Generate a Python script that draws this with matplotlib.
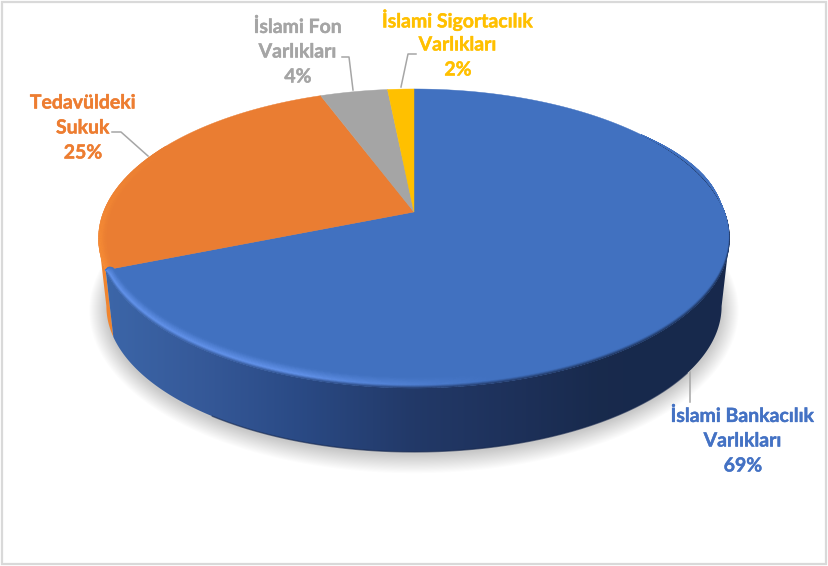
import numpy as np
import matplotlib
matplotlib.use('Agg')
import matplotlib.pyplot as plt
import matplotlib.patheffects as pe
from matplotlib.collections import PolyCollection
from matplotlib.colors import to_rgb
from matplotlib.patches import Polygon, Rectangle

# data, clockwise from 12 o'clock
categories = ['İslami Bankacılık\nVarlıkları', 'Tedavüldeki\nSukuk', 'İslami Fon\nVarlıkları', 'İslami Sigortacılık\nVarlıkları']
values = [68.9, 25.4, 4.1, 1.6]
percent_labels = ['69%', '25%', '4%', '2%']
colors = ['#4171c0', '#ea7d32', '#a5a5a5', '#ffc000']
label_colors = ['#4472c4', '#ed7d31', '#a5a5a5', '#ffc000']

# pie geometry in pixels, tilted circle with a bit of perspective
cx, cy = 414.0, 212.0
a, b, k = 310.5, 144.8, 0.177
depth = 68.4
bottom_scale = 0.975


def project(theta, r=1.0, dy=0.0):
    u = r * np.sin(theta)
    v = r * np.cos(theta)
    den = 1 + k * v
    return cx + a * u / den, cy - b * v / den + dy


def lower(theta):
    x, y = project(theta)
    return cx + (x - cx) * bottom_scale, cy + (y - cy) * bottom_scale + depth


def mix(c1, c2, t):
    return tuple(np.array(c1) * (1 - t) + np.array(c2) * t)


plt.rcParams['font.family'] = ['Lato', 'DejaVu Sans']
fig = plt.figure(figsize=(8.29, 5.66), dpi=100)
ax = fig.add_axes([0, 0, 1, 1])
ax.set_xlim(0, 829)
ax.set_ylim(566, 0)
ax.axis('off')

# frame
ax.add_patch(Rectangle((2, 2), 824.5, 561.5, fill=False, ec='#d9d9d9', lw=1.6, zorder=0))

fracs = np.array(values) / sum(values)
edges = np.concatenate([[0], np.cumsum(fracs)]) * 2 * np.pi
blue_end = edges[1]

# angles where the outline of the disc is widest, the wall silhouette runs straight there
th_right = np.pi / 2 + np.arcsin(k)
th_left = 2 * np.pi - th_right

# soft shadow under the disc
full = np.linspace(0, 2 * np.pi, 300)
lx, ly = lower(full)
mx, my = lx.mean(), ly.mean()
for e in np.arange(17, -1, -1.0):
    sx = mx + (lx - mx) * (1 + e / 306.0)
    sy = my + (ly - my) * (1 + e / 148.0) + 3
    ax.add_patch(Polygon(np.c_[sx, sy], fc='black', ec='none', alpha=0.012, zorder=1))

# orange side wall, only a sliver shows on the left
th = np.linspace(blue_end, th_left, 40)
x1, y1 = project(th)
x2, y2 = lower(th)
ax.add_patch(Polygon(np.r_[np.c_[x1, y1], np.c_[x2, y2][::-1]], fc='#f0852f', ec='none', zorder=2))

# blue side wall, shaded from left to right
side_x = [105, 200, 300, 410, 520, 600, 730]
side_r = [0.235, 0.21, 0.165, 0.135, 0.115, 0.095, 0.09]
side_g = [0.40, 0.35, 0.29, 0.225, 0.19, 0.165, 0.16]
side_b = [0.66, 0.60, 0.52, 0.41, 0.35, 0.30, 0.30]


def side_color(x):
    return (np.interp(x, side_x, side_r), np.interp(x, side_x, side_g), np.interp(x, side_x, side_b))


th = np.linspace(th_right, blue_end, 400)
x1, y1 = project(th)
x2, y2 = lower(th)
side_shape = Polygon(np.r_[np.c_[x1, y1], np.c_[x2, y2][::-1]], fc='none', ec='none', transform=ax.transData)
ax.add_patch(side_shape)
grad_x = np.arange(100, 735)
grad = np.array([[side_color(x) for x in grad_x]])
img = ax.imshow(grad, extent=(100, 735, 460, 130), aspect='auto', zorder=3, interpolation='bilinear')
img.set_clip_path(side_shape)
ax.set_xlim(0, 829)
ax.set_ylim(566, 0)

# thin dark line on the bottom edge
ax.plot(x2[70:310], y2[70:310], color='#15264c', lw=1.0, alpha=0.6, zorder=3.5)

# top of the pie
for i in range(len(values)):
    th = np.linspace(edges[i], edges[i + 1], 200)
    x, y = project(th)
    pts = np.r_[[[cx, cy]], np.c_[x, y]]
    ax.add_patch(Polygon(pts, fc=colors[i], ec=colors[i], lw=0.3, zorder=4))

# bevel along the front rim of the blue slice
base = to_rgb(colors[0])
light = to_rgb('#6494ec')
n_t = 14
th0 = np.pi * 0.3
th = np.linspace(th0, blue_end, 300)
fade = np.clip((th - th0) / 0.5, 0, 1)
fade_end = np.sqrt(np.clip((blue_end - th) / 0.05, 0, 1))
width = fade * fade_end
quads = []
cols = []
for j in range(n_t):
    t0, t1 = j / n_t, (j + 1) / n_t
    xa, ya = project(th, 1 - 0.012 * t0 * width, -9 * t0 * width)
    xb, yb = project(th, 1 - 0.012 * t1 * width, -9 * t1 * width)
    for i in range(len(th) - 1):
        quads.append([(xa[i], ya[i]), (xa[i + 1], ya[i + 1]), (xb[i + 1], yb[i + 1]), (xb[i], yb[i])])
        amount = np.clip((500 - xa[i]) / 200.0, 0, 1)
        hl = mix(base, light, amount)
        tm = (t0 + t1) / 2
        if tm < 0.3:
            c = mix(side_color(xa[i]), hl, tm / 0.3)
        else:
            c = mix(hl, base, (tm - 0.3) / 0.7)
        cols.append(c)
ax.add_collection(PolyCollection(quads, facecolors=cols, edgecolors=cols, linewidths=0.3, zorder=5))

# lighter rim on the orange slice
base = to_rgb(colors[1])
light = to_rgb('#f78d36')
th = np.linspace(blue_end, blue_end + 0.9, 80)
quads = []
cols = []
for j in range(6):
    xa, ya = project(th, 1 - 0.004 * j)
    xb, yb = project(th, 1 - 0.004 * (j + 1))
    for i in range(len(th) - 1):
        quads.append([(xa[i], ya[i]), (xa[i + 1], ya[i + 1]), (xb[i + 1], yb[i + 1]), (xb[i], yb[i])])
        cols.append(mix(light, base, max(j / 6, i / 79)))
ax.add_collection(PolyCollection(quads, facecolors=cols, edgecolors=cols, linewidths=0.3, zorder=4.5))

# labels and leader lines
label_x = [743, 83, 298, 458]
label_y = [416, 103, 27, 20]
leaders = [
    [(690, 372), (690, 402)],
    [(112, 132), (121, 132), (148, 156)],
    [(342, 57), (349, 57), (353, 90)],
    [(416, 54), (408, 54), (401, 87)],
]
for i in range(len(categories)):
    lines = categories[i].split('\n') + [percent_labels[i]]
    for j, line in enumerate(lines):
        ax.text(label_x[i], label_y[i] + j * 25, line, color=label_colors[i], fontsize=14,
                fontweight='bold', ha='center', va='center', zorder=7,
                path_effects=[pe.withStroke(linewidth=0.3, foreground=label_colors[i])])
    xs, ys = zip(*leaders[i])
    ax.plot(xs, ys, color='#a6a6a6', lw=1.1, zorder=6)

fig.savefig('out.png', dpi=100)
